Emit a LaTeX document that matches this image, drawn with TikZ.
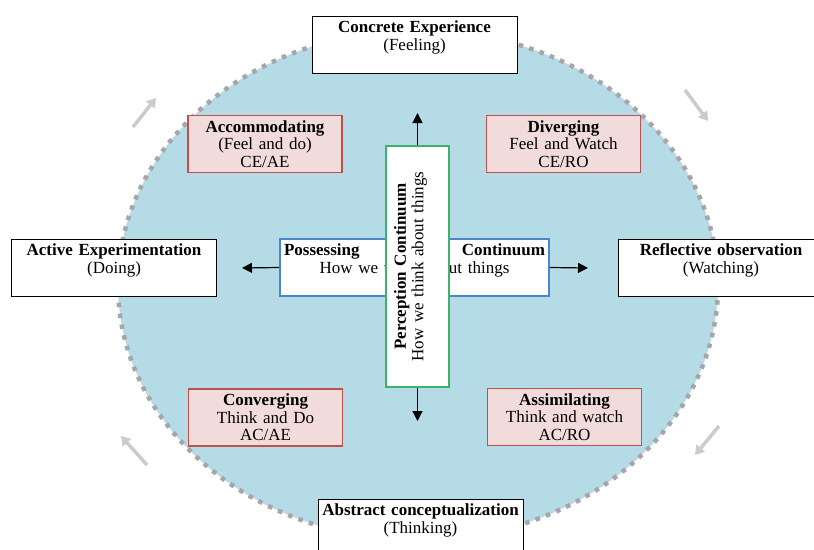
\documentclass[tikz,border=0pt]{standalone}
\usepackage{fontspec}
\setmainfont{Liberation Serif}
\usetikzlibrary{arrows.meta}
\definecolor{cyclebg}{HTML}{B5DCE6}
\definecolor{cycledot}{HTML}{A8A4A7}
\definecolor{cyclearr}{HTML}{CBCBCB}
\definecolor{boxfill}{HTML}{F2DCDB}
\definecolor{boxline}{HTML}{C0504D}
\definecolor{procline}{HTML}{4A86D0}
\definecolor{percline}{HTML}{3DB26B}
\begin{document}
\begin{tikzpicture}[x=1pt, y=-1pt, inner sep=2pt,
    txt/.style={font=\fontsize{17}{17.5}\selectfont, align=center},
    pole/.style={txt, draw=black, fill=white, line width=.9pt, minimum width=205pt, minimum height=57pt, text width=199pt},
    learnbox/.style={txt, draw=boxline, fill=boxfill, line width=1.6pt, minimum height=57pt, text width=150pt},
    arr/.style={-{Triangle[length=10pt,width=10pt]}, line width=1.2pt},
    cyc/.style={-{Triangle[length=9pt,width=11pt]}, line width=3.5pt, draw=cyclearr}]
  \useasboundingbox (0,0) rectangle (814,549);
  \clip (0,0) rectangle (814,549);
  \draw[fill=cyclebg, draw=cycledot, line width=4.5pt, dash pattern=on 4.5pt off 6.5pt] (418,285) ellipse [x radius=300pt, y radius=255pt];
  \node[pole] (ce) at (414.5,44.5) {\textbf{Concrete Experience}\\(Feeling)\\\mbox{}};
  \node[pole] (ae) at (114,267.5) {\textbf{Active Experimentation}\\(Doing)\\\mbox{}};
  \node[pole] (ro) at (721,267.5) {\textbf{Reflective observation}\\(Watching)\\\mbox{}};
  \node[pole] (ac) at (420.5,527.5) {\textbf{Abstract conceptualization}\\(Thinking)\\\mbox{}};
  \node[learnbox] (acc) at (265,144) {\textbf{Accommodating}\\(Feel and do)\\CE/AE};
  \node[learnbox] (div) at (563.5,144) {\textbf{Diverging}\\Feel and Watch\\CE/RO};
  \node[learnbox] (con) at (265.5,417.5) {\textbf{Converging}\\Think and Do\\AC/AE};
  \node[learnbox] (asm) at (564.5,417) {\textbf{Assimilating}\\Think and watch\\AC/RO};
  \node[txt, draw=procline, fill=white, line width=1.6pt, minimum height=57pt, text width=265pt] (proc) at (414.5,267.5) {\makebox[261pt]{\textbf{Possessing}\hfill\textbf{Continuum}}\\How we think about things\\\mbox{}};
  \node[txt, draw=percline, fill=white, line width=1.6pt, rotate=90, minimum height=63pt, text width=237pt] (perc) at (417.5,266.5) {\textbf{Perception Continuum}\\How we think about things\\\mbox{}};
  \coordinate (up) at (417.5,113);
  \coordinate (down) at (417.5,421);
  \coordinate (left) at (242,268);
  \coordinate (right) at (588,268);
  \draw[arr] (perc.east) -- (up);
  \draw[arr] (perc.west) -- (down);
  \draw[arr] (proc.west) -- (left);
  \draw[arr] (proc.east) -- (right);
  \coordinate (tl0) at (133,127);
  \coordinate (tl1) at (156,98);
  \coordinate (tr0) at (685,90);
  \coordinate (tr1) at (708,121);
  \coordinate (br0) at (719,426);
  \coordinate (br1) at (695,455);
  \coordinate (bl0) at (147,465);
  \coordinate (bl1) at (121,436);
  \draw[cyc] (tl0) -- (tl1);
  \draw[cyc] (tr0) -- (tr1);
  \draw[cyc] (br0) -- (br1);
  \draw[cyc] (bl0) -- (bl1);
\end{tikzpicture}
\end{document}
